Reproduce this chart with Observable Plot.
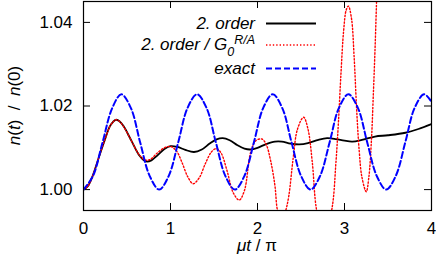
<!DOCTYPE html>
<html>
<head>
<meta charset="utf-8">
<script src="https://cdn.jsdelivr.net/npm/d3@7"></script>
<script src="https://cdn.jsdelivr.net/npm/@observablehq/plot@0.6"></script>
<style>
  html, body { margin: 0; padding: 0; background: white; }
  svg { display: block; }
</style>
</head>
<body>
<div id="chart"></div>
<script>
const xTicks = [0, 1, 2, 3, 4];
const yTicks = [1.00, 1.02, 1.04];
const seriesNames = ["2. order", "2. order / G", "exact"];

const exactX = [0,0.11,0.22,0.33,0.435,0.545,0.65,0.76,0.87,0.98,1.09,1.195,1.305,1.415,1.52,1.63,1.74,1.85,1.96,2.065,2.175,2.285,2.39,2.5,2.61,2.72,2.83,2.935,3.045,3.155,3.26,3.37,3.48,3.59,3.70,3.805,3.915,4.0];
const exactY = [1.0000,1.0033,1.0114,1.0195,1.0228,1.0195,1.0114,1.0033,1.0000,1.0033,1.0114,1.0195,1.0228,1.0195,1.0114,1.0033,1.0000,1.0033,1.0114,1.0195,1.0228,1.0195,1.0114,1.0033,1.0000,1.0033,1.0114,1.0195,1.0228,1.0195,1.0114,1.0033,1.0000,1.0033,1.0114,1.0195,1.0228,1.0210];

const order2X = [0,0.05,0.1,0.15,0.2,0.25,0.3,0.34,0.37,0.41,0.46,0.55,0.64,0.69,0.73,0.78,0.85,0.93,1.0,1.08,1.17,1.27,1.36,1.45,1.53,1.6,1.68,1.77,1.85,1.92,2.0,2.1,2.2,2.28,2.38,2.48,2.58,2.7,2.8,2.9,3.0,3.09,3.2,3.35,3.5,3.7,3.85,4.0];
const order2Y = [1.0000,1.0008,1.0030,1.0060,1.0092,1.0122,1.0150,1.0162,1.0167,1.0164,1.0152,1.0117,1.0082,1.0071,1.0067,1.0070,1.0082,1.0097,1.0104,1.0102,1.0095,1.0090,1.0096,1.0110,1.0120,1.0123,1.0118,1.0106,1.0098,1.0096,1.0100,1.0109,1.0115,1.0115,1.0110,1.0108,1.0111,1.0119,1.0123,1.0121,1.0117,1.0115,1.0119,1.0127,1.0130,1.0136,1.0145,1.0157];

const order2GX = [0,0.05,0.1,0.15,0.2,0.25,0.3,0.34,0.37,0.41,0.46,0.55,0.64,0.69,0.73,0.78,0.85,0.93,1.0,1.07,1.13,1.2,1.26,1.33,1.4,1.47,1.525,1.58,1.65,1.72,1.79,1.85,1.92,1.98,2.05,2.1,2.15,2.2,2.23,2.28,2.325,2.36,2.41,2.46,2.53,2.58,2.63,2.68,2.77,2.86,2.9,2.93,2.96,2.99,3.02,3.045,3.08,3.11,3.14,3.17,3.2,3.25,3.28,3.31,3.33,3.35,3.37,3.4];
const order2GY = [1.0000,1.0008,1.0030,1.0060,1.0092,1.0122,1.0150,1.0162,1.0167,1.0164,1.0151,1.0117,1.0083,1.0073,1.0070,1.0074,1.0088,1.0100,1.0103,1.0092,1.0066,1.0030,1.0014,1.0028,1.0062,1.0090,1.0098,1.0088,1.0045,0.9993,0.9975,0.9998,1.0088,1.0117,1.0121,1.0108,1.0070,1.0010,0.9950,0.9920,0.9950,0.9985,1.0075,1.0145,1.0173,1.0145,1.0065,0.9950,0.9880,0.9960,1.0060,1.0160,1.0280,1.0380,1.0430,1.0439,1.0410,1.0320,1.0190,1.0090,1.0030,0.9995,1.0030,1.0120,1.0220,1.0330,1.0460,1.0650];

const toRows = (xs, ys) => xs.map((x, i) => ({x, y: ys[i]}));
const exact = toRows(exactX, exactY);
const order2 = toRows(order2X, order2Y);
const order2G = toRows(order2GX, order2GY);

const W = 436, H = 265, ML = 83, MR = 5, MT = 1, MB = 55;
const PW = W - ML - MR, PH = H - MT - MB, TL = 7;
const FONT = "'Liberation Sans', Arial, Helvetica, sans-serif";
const RED_DASH = "1.4,2";

const svg = Plot.plot({
  width: W, height: H,
  marginLeft: ML, marginRight: MR, marginTop: MT, marginBottom: MB,
  style: {fontFamily: FONT, fontSize: "17px", background: "white", color: "black"},
  x: {domain: [0, 4]},
  y: {domain: [0.995, 1.045]},
  marks: [
    Plot.axisX(xTicks, {tickSize: 0, tickPadding: 11, label: null, tickFormat: d => String(d), fontSize: 17}),
    Plot.axisY(yTicks, {tickSize: 0, tickPadding: 11, label: null, tickFormat: d => d.toFixed(2), fontSize: 17}),
    Plot.tickX(xTicks, {x: d => d, insetTop: PH - TL, stroke: "black", strokeWidth: 1}),
    Plot.tickX(xTicks, {x: d => d, insetBottom: PH - TL, stroke: "black", strokeWidth: 1}),
    Plot.tickY(yTicks, {y: d => d, insetRight: PW - TL, stroke: "black", strokeWidth: 1}),
    Plot.tickY(yTicks, {y: d => d, insetLeft: PW - TL, stroke: "black", strokeWidth: 1}),
    Plot.line(order2, {x: "x", y: "y", stroke: "black", strokeWidth: 1.8, curve: "catmull-rom", clip: true}),
    Plot.line(order2G, {x: "x", y: "y", stroke: "#ff0000", strokeWidth: 1.4, strokeDasharray: RED_DASH, curve: "catmull-rom", clip: true}),
    Plot.line(exact, {x: "x", y: "y", stroke: "#0000ff", strokeWidth: 2, strokeDasharray: "6,3", curve: "catmull-rom", clip: true}),
    Plot.frame({stroke: "black", strokeWidth: 1.2})
  ]
});

const s = d3.select(svg);
// legend
const leg = s.append("g").attr("font-family", FONT).attr("font-size", 17).attr("font-style", "italic");
const legRows = [
  {y: 23.5, stroke: "black", w: 1.8, dash: null},
  {y: 45, stroke: "#ff0000", w: 1.4, dash: RED_DASH},
  {y: 68.5, stroke: "#0000ff", w: 2, dash: "6,3"}
];
legRows.forEach((r) => {
  leg.append("line").attr("x1", 266).attr("x2", 316).attr("y1", r.y).attr("y2", r.y)
    .attr("stroke", r.stroke).attr("stroke-width", r.w).attr("stroke-dasharray", r.dash);
});
leg.append("text").attr("x", 255).attr("y", 28.5).attr("text-anchor", "end").text(seriesNames[0]);
const t2 = leg.append("text").attr("x", 255).attr("y", 49.5).attr("text-anchor", "end");
t2.append("tspan").text(seriesNames[1]);
t2.append("tspan").attr("dy", 6).attr("font-size", 12.5).text("0");
t2.append("tspan").attr("dy", -12).attr("font-size", 12.5).text("R/A");
leg.append("text").attr("x", 255).attr("y", 73.5).attr("text-anchor", "end").text(seriesNames[2]);

// axis labels
const xl = s.append("text").attr("x", ML + PW / 2).attr("y", 251).attr("text-anchor", "middle")
  .attr("font-family", FONT).attr("font-size", 17);
xl.append("tspan").attr("font-style", "italic").text("\u03bct");
xl.append("tspan").text(" / \u03c0");

const yl = s.append("text").attr("transform", `translate(20,${MT + PH / 2}) rotate(-90)`)
  .attr("text-anchor", "middle").attr("font-family", FONT).attr("font-size", 17)
  .attr("xml:space", "preserve").style("white-space", "pre");
yl.append("tspan").attr("font-style", "italic").text("n");
yl.append("tspan").text("(");
yl.append("tspan").attr("font-style", "italic").text("t");
yl.append("tspan").text(")  /  ");
yl.append("tspan").attr("font-style", "italic").text("n");
yl.append("tspan").text("(0)");

document.getElementById("chart").appendChild(svg);
</script>
</body>
</html>
